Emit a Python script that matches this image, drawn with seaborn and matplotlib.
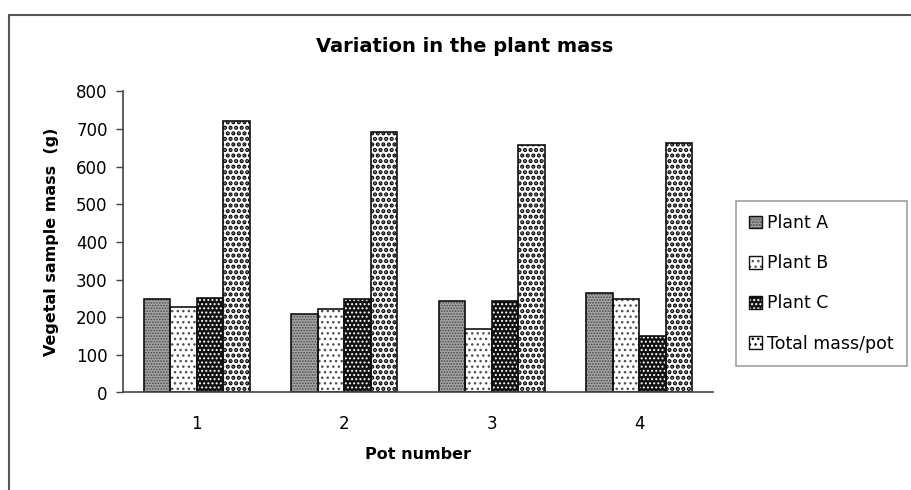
import matplotlib
matplotlib.use("Agg")
import matplotlib.pyplot as plt
from matplotlib.lines import Line2D
from matplotlib.patches import Rectangle
from matplotlib.legend_handler import HandlerTuple
import seaborn as sns
import pandas as pd

# values
pots = ["1", "2", "3", "4"]
series = ["Plant A", "Plant B", "Plant C", "Total mass/pot"]
plant_a = [249, 208, 244, 263]
plant_b = [226, 222, 169, 249]
plant_c = [250, 249, 244, 151]
total_mass = [720, 693, 658, 664]

df = pd.DataFrame({
    "pot": pots * 4,
    "series": [s for s in series for _ in pots],
    "mass": plant_a + plant_b + plant_c + total_mass,
})

sns.set_theme(style="white")
plt.rcParams["font.family"] = ["DejaVu Sans"]
plt.rcParams["text.color"] = "black"
plt.rcParams["axes.labelcolor"] = "black"
plt.rcParams["xtick.color"] = "black"
plt.rcParams["ytick.color"] = "black"
plt.rcParams["hatch.linewidth"] = 1.0

# (face colour, hatch, hatch colour, hatch linewidth) per series
styles = [
    ("#a4a4a4", "......", "#484848", 0.8),
    ("#ffffff", "...", "#505050", 1.0),
    ("#111111", "....", "#ffffff", 0.9),
    ("#ffffff", "...", "#000000", 2.1),
]

fig = plt.figure(figsize=(9.11, 4.9), dpi=100)
ax = fig.add_axes([123 / 911, 1 - 392.5 / 490, 590 / 911, 301.2 / 490])

sns.barplot(data=df, x="pot", y="mass", hue="series", order=pots,
            hue_order=series, width=0.72, ax=ax, legend=False)

handles = []
for container, (face, hatch, hcol, hlw), name in zip(ax.containers, styles, series):
    for bar in container:
        bar.set_facecolor(face)
        bar.set_hatch(hatch)
        bar.set_edgecolor(hcol)
        bar.set_linewidth(0)
        if hasattr(bar, "set_hatch_linewidth"):
            bar.set_hatch_linewidth(hlw)
        # black outline drawn on top of the hatched bar
        ax.add_patch(Rectangle(bar.get_xy(), bar.get_width(), bar.get_height(),
                               fill=False, edgecolor="#111111", linewidth=1.2))
    fill = Rectangle((0, 0), 1, 1, facecolor=face, hatch=hatch,
                     edgecolor=hcol, linewidth=0)
    if hasattr(fill, "set_hatch_linewidth"):
        fill.set_hatch_linewidth(hlw)
    outline = Rectangle((0, 0), 1, 1, fill=False, edgecolor="#111111", linewidth=1.0)
    handles.append((fill, outline))

ax.set_ylim(0, 800)
ax.set_yticks(range(0, 801, 100))
ax.set_xlim(-0.5, 3.5)
ax.tick_params(axis="y", direction="out", length=5, width=1, color="#444444",
               labelsize=12, pad=6, left=True)
ax.tick_params(axis="x", length=0, labelsize=12, pad=16)
for side in ["top", "right"]:
    ax.spines[side].set_visible(False)
for side in ["left", "bottom"]:
    ax.spines[side].set_color("#444444")
    ax.spines[side].set_linewidth(1.2)

ax.set_xlabel("Pot number", fontsize=11.5, fontweight="bold", labelpad=10)
ax.set_ylabel("Vegetal sample mass  (g)", fontsize=11.5, fontweight="bold", labelpad=12)
fig.text(465 / 911, 1 - 46 / 490, "Variation in the plant mass", ha="center",
         va="center", fontsize=14, fontweight="bold")

leg = fig.legend(handles=handles, labels=series, loc="upper left",
                 handler_map={tuple: HandlerTuple(ndivide=1)},
                 bbox_to_anchor=(736 / 911, 1 - 201 / 490), fontsize=12.5,
                 frameon=True, fancybox=False, edgecolor="#888888",
                 handlelength=0.75, handleheight=0.75, handletextpad=0.3,
                 labelspacing=1.28, borderpad=0.75, borderaxespad=0)
leg.get_frame().set_linewidth(1.2)

# outer chart-area border (top and left edges visible)
fig.add_artist(Line2D([8.5 / 911, 1], [1 - 15 / 490, 1 - 15 / 490],
                      transform=fig.transFigure, color="#555555", lw=1.5))
fig.add_artist(Line2D([8.5 / 911, 8.5 / 911], [0, 1 - 15 / 490],
                      transform=fig.transFigure, color="#555555", lw=1.5))

fig.savefig("out.png", dpi=100)
